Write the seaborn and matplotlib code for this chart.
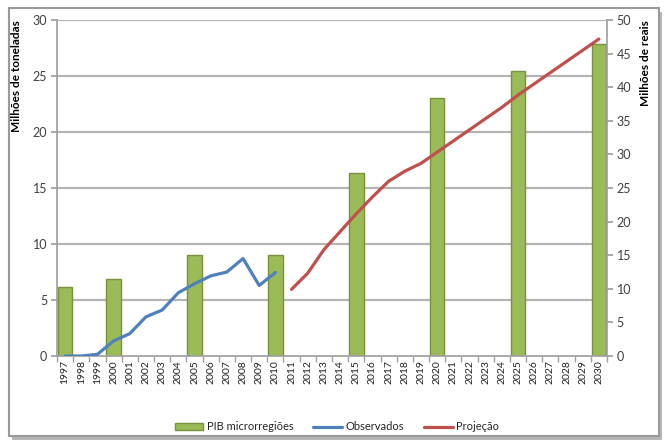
import matplotlib
matplotlib.use("Agg")
import matplotlib.pyplot as plt
import matplotlib.patches as mpatches
from matplotlib.lines import Line2D
from matplotlib.ticker import FixedLocator, MultipleLocator
import numpy as np
import pandas as pd
import seaborn as sns

# ---- data ----
years = [str(y) for y in range(1997, 2031)]

pib_years = ["1997", "2000", "2005", "2010", "2015", "2020", "2025", "2030"]
pib_values = [10.3, 11.5, 15.0, 15.0, 27.2, 38.4, 42.4, 46.4]  # Milhões de reais

obs_years = [str(y) for y in range(1997, 2011)]
obs_values = [0.0, 0.0, 0.15, 1.35, 2.0, 3.5, 4.1, 5.65, 6.45, 7.15, 7.5, 8.7, 6.3, 7.45]

proj_years = [str(y) for y in range(2011, 2031)]
proj_values = [5.95, 7.4, 9.5, 11.1, 12.7, 14.2, 15.6, 16.5, 17.2, 18.2,
               19.2, 20.2, 21.2, 22.2, 23.3, 24.3, 25.3, 26.3, 27.3, 28.3]  # Milhões de toneladas

sns.set_theme(style="white")
plt.rcParams["font.family"] = ["Lato", "DejaVu Sans"]

W, H = 668, 441
fig = plt.figure(figsize=(W / 100, H / 100), dpi=100)
fig.patch.set_facecolor("white")

# background axes holding the frame and its shadow
bg = fig.add_axes([0, 0, 1, 1], zorder=-10)
bg.set_xlim(0, W)
bg.set_ylim(H, 0)
bg.axis("off")
bg.add_patch(mpatches.Rectangle((12, 12), 650, 428, facecolor="#b8b8b8", edgecolor="none"))
bg.add_patch(mpatches.Rectangle((9, 8), 650, 428, facecolor="white",
                                edgecolor="#9a9a9a", linewidth=1.5))

left, right, top, bottom = 57, 607, 20, 356
ax = fig.add_axes([left / W, 1 - bottom / H, (right - left) / W, (bottom - top) / H], zorder=1)
ax2 = ax.twinx()
ax2.set_zorder(2)
ax.patch.set_visible(False)
ax2.patch.set_visible(False)

# bars (right axis, reais)
pib_df = pd.DataFrame({"ano": pib_years, "valor": pib_values})
sns.barplot(data=pib_df, x="ano", y="valor", order=years, ax=ax, color="#9BBB59",
            saturation=1, width=0.9, edgecolor="#76933C", linewidth=1.0, zorder=2)

# lines (left axis, toneladas)
pos = {y: i for i, y in enumerate(years)}
obs_df = pd.DataFrame({"x": [pos[y] for y in obs_years], "v": obs_values})
proj_df = pd.DataFrame({"x": [pos[y] for y in proj_years], "v": proj_values})
sns.lineplot(data=obs_df, x="x", y="v", ax=ax2, color="#4F81BD", linewidth=2.3)
sns.lineplot(data=proj_df, x="x", y="v", ax=ax2, color="#C0504D", linewidth=2.3)

# --- line axis config (left) ---
ax2.set_ylim(0, 30)
ax2.set_xlim(-0.5, len(years) - 0.5)
ax2.yaxis.tick_left()
ax2.yaxis.set_label_position("left")
ax2.yaxis.set_major_locator(MultipleLocator(5))
ax2.set_ylabel("Milhões de toneladas", fontsize=8.5, fontweight="bold", color="black", loc="top")
ax2.yaxis.set_label_coords(-0.063, 1.0)
ax2.set_xlabel("")
ax2.grid(False)
ax2.tick_params(axis="y", left=True, right=False, length=4, color="#a0a0a0",
                labelsize=9, labelcolor="#404040", pad=3)
for side in ["top", "right", "bottom"]:
    ax2.spines[side].set_visible(False)
ax2.spines["left"].set_color("#a0a0a0")

# --- bar axis config (right) ---
ax.set_ylim(0, 50)
ax.set_xlim(-0.5, len(years) - 0.5)
ax.yaxis.tick_right()
ax.yaxis.set_label_position("right")
ax.yaxis.set_major_locator(MultipleLocator(5))
ax.set_ylabel("Milhões de reais", fontsize=8.5, fontweight="bold", color="black", loc="top")
ax.yaxis.set_label_coords(1.06, 1.0)
ax.set_xlabel("")
ax.tick_params(axis="y", which="major", right=True, left=False, length=4, color="#a0a0a0",
               labelsize=9, labelcolor="#404040", pad=3)

ax.set_xticks(range(len(years)))
ax.set_xticklabels(years, rotation=90, fontsize=7.5, color="#202020")
ax.tick_params(axis="x", which="major", length=0, pad=3)
ax.xaxis.set_minor_locator(FixedLocator(np.arange(-0.5, len(years), 1)))
ax.tick_params(axis="x", which="minor", bottom=True, length=4, color="#a0a0a0")

for side in ["top", "left"]:
    ax.spines[side].set_visible(False)
ax.spines["bottom"].set_color("#a0a0a0")
ax.spines["right"].set_color("#a0a0a0")

# gridlines at the left (toneladas) axis ticks, drawn behind the bars
lo2, hi2 = ax2.get_ylim()
lo1, hi1 = ax.get_ylim()
for t in ax2.get_yticks():
    if lo2 < t <= hi2:
        ax.axhline(lo1 + (t - lo2) * (hi1 - lo1) / (hi2 - lo2), color="#b4b4b4",
                   linewidth=1.6, zorder=1)

handles = [
    mpatches.Patch(facecolor="#9BBB59", edgecolor="#76933C", label="PIB microrregiões"),
    Line2D([0], [0], color="#4F81BD", linewidth=2.3, label="Observados"),
    Line2D([0], [0], color="#C0504D", linewidth=2.3, label="Projeção"),
]
fig.legend(handles=handles, loc="center", bbox_to_anchor=(337 / W, 1 - 427 / H), ncol=3,
           frameon=False, fontsize=8, handlelength=2.6, handletextpad=0.3, columnspacing=1.8,
           handleheight=0.6)

fig.savefig("out.png", dpi=100)
